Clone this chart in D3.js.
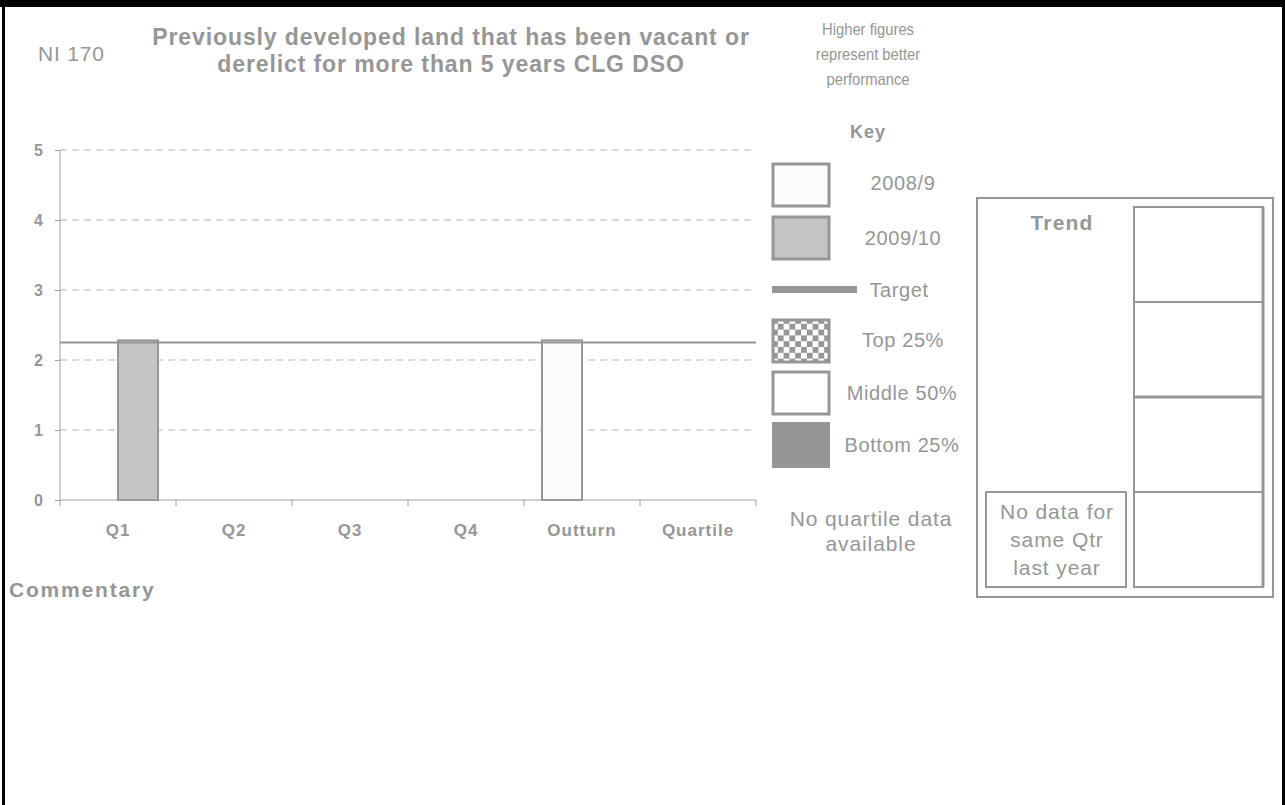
<!DOCTYPE html>
<html>
<head>
<meta charset="utf-8">
<script src="https://cdn.jsdelivr.net/npm/d3@7"></script>
<style>
  body { margin: 0; background: #fff; }
  svg text { font-family: "Liberation Sans", Arial, sans-serif; fill: #969696; }
</style>
</head>
<body>
<div id="chart"></div>
<script>
// data
var categories = ["Q1", "Q2", "Q3", "Q4", "Outturn", "Quartile"];
var seriesKeys = ["2008/9", "2009/10"];
var values2008 = [null, null, null, null, 2.28, null];
var values2009 = [2.28, null, null, null, null, null];
var targetValue = 2.25;
var yTicks = [0, 1, 2, 3, 4, 5];
var titleLines = ["Previously developed land that has been vacant or", "derelict for more than 5 years CLG DSO"];
var noteLines = ["Higher figures", "represent better", "performance"];
var keyLabels = ["2008/9", "2009/10", "Target", "Top 25%", "Middle 50%", "Bottom 25%"];
var quartileNote = ["No quartile data", "available"];
var trendNote = ["No data for", "same Qtr", "last year"];

var width = 1285, height = 805;
var grey = "#969696";

var svg = d3.select("#chart").append("svg")
    .attr("width", width)
    .attr("height", height);

// checker pattern for Top 25%
var defs = svg.append("defs");
var pat = defs.append("pattern")
    .attr("id", "checker")
    .attr("patternUnits", "userSpaceOnUse")
    .attr("width", 11.6).attr("height", 11.6)
    .attr("x", 772).attr("y", 318);
pat.append("rect").attr("width", 11.6).attr("height", 11.6).attr("fill", "#fff");
pat.append("rect").attr("width", 5.8).attr("height", 5.8).attr("fill", grey);
pat.append("rect").attr("x", 5.8).attr("y", 5.8).attr("width", 5.8).attr("height", 5.8).attr("fill", grey);

// black frame
svg.append("rect").attr("x", 0).attr("y", 0).attr("width", width).attr("height", 7).attr("fill", "#000");
svg.append("rect").attr("x", 2).attr("y", 0).attr("width", 3).attr("height", height).attr("fill", "#000");
svg.append("rect").attr("x", 1282).attr("y", 0).attr("width", 3).attr("height", height).attr("fill", "#000");

// header texts
svg.append("text")
    .attr("x", 38).attr("y", 61)
    .attr("font-size", 21)
    .attr("letter-spacing", 0.8)
    .text("NI 170");

svg.append("text")
    .attr("text-anchor", "middle")
    .attr("font-size", 23)
    .attr("font-weight", "bold")
    .attr("letter-spacing", 0.9)
    .selectAll("tspan")
    .data(titleLines)
    .enter().append("tspan")
    .attr("x", 451)
    .attr("y", function(d, i) { return 45 + i * 27; })
    .text(function(d) { return d; });

// slightly condensed note text
svg.append("g")
    .attr("transform", "translate(868,0) scale(0.87,1)")
    .append("text")
    .attr("text-anchor", "middle")
    .attr("font-size", 17)
    .selectAll("tspan")
    .data(noteLines)
    .enter().append("tspan")
    .attr("x", 0)
    .attr("y", function(d, i) { return 35 + i * 25; })
    .text(function(d) { return d; });

// plot
var margin = { left: 60, top: 150 },
    plotW = 696, plotH = 350;

var g = svg.append("g")
    .attr("transform", "translate(" + margin.left + "," + margin.top + ")");

var x0Scale = d3.scaleBand()
    .domain(categories)
    .range([0, plotW]);

var x1Scale = d3.scaleBand()
    .domain(seriesKeys)
    .range([0, x0Scale.bandwidth()])
    .paddingOuter(0.45);

var yScale = d3.scaleLinear()
    .domain([0, 5])
    .range([plotH, 0]);

// gridlines
g.append("g")
    .selectAll("line")
    .data(yTicks.slice(1))
    .enter().append("line")
    .attr("x1", 0).attr("x2", plotW)
    .attr("y1", function(d) { return yScale(d); })
    .attr("y2", function(d) { return yScale(d); })
    .attr("stroke", "#b4b4b4")
    .attr("stroke-dasharray", "7,5");

// bars
var rows = categories.map(function(c, i) {
    return { cat: c, vals: [{ key: "2008/9", value: values2008[i] }, { key: "2009/10", value: values2009[i] }] };
});
var fills = { "2008/9": "#fcfcfc", "2009/10": "#c4c4c4" };

g.append("g")
    .selectAll("g")
    .data(rows)
    .enter().append("g")
    .attr("transform", function(d) { return "translate(" + x0Scale(d.cat) + ",0)"; })
    .selectAll("rect")
    .data(function(d) { return d.vals.filter(function(v) { return v.value != null; }); })
    .enter().append("rect")
    .attr("x", function(d) { return x1Scale(d.key); })
    .attr("y", function(d) { return yScale(d.value); })
    .attr("width", x1Scale.bandwidth())
    .attr("height", function(d) { return plotH - yScale(d.value); })
    .attr("fill", function(d) { return fills[d.key]; })
    .attr("stroke", grey)
    .attr("stroke-width", 2);

// target line
g.append("line")
    .attr("x1", 0).attr("x2", plotW)
    .attr("y1", yScale(targetValue)).attr("y2", yScale(targetValue))
    .attr("stroke", grey)
    .attr("stroke-width", 2);

// axes
var yAxis = g.append("g")
    .call(d3.axisLeft(yScale).tickValues(yTicks).tickFormat(d3.format("d")).tickSize(5).tickPadding(12));
yAxis.select(".domain").attr("stroke", "#a0a0a0").attr("d", "M0,0V" + plotH);
yAxis.selectAll(".tick line").attr("stroke", "#a0a0a0");
yAxis.selectAll("text")
    .attr("font-size", 16).attr("font-weight", "bold")
    .attr("fill", grey).attr("font-family", "Liberation Sans, Arial, sans-serif");

var xAxis = g.append("g")
    .attr("transform", "translate(0," + plotH + ")")
    .call(d3.axisBottom(x0Scale).tickSize(0).tickPadding(24));
xAxis.select(".domain").attr("stroke", "#a0a0a0").attr("d", "M0,0H" + plotW);
xAxis.selectAll("text")
    .attr("font-size", 17).attr("font-weight", "bold")
    .attr("letter-spacing", 1)
    .attr("fill", grey).attr("font-family", "Liberation Sans, Arial, sans-serif");

// category boundary ticks
g.append("g")
    .selectAll("line")
    .data(categories.map(function(c) { return x0Scale(c); }).concat([plotW]))
    .enter().append("line")
    .attr("x1", function(d) { return d; }).attr("x2", function(d) { return d; })
    .attr("y1", plotH).attr("y2", plotH + 6)
    .attr("stroke", "#a0a0a0");

// key
svg.append("text")
    .attr("x", 868).attr("y", 138)
    .attr("text-anchor", "middle")
    .attr("font-size", 18).attr("font-weight", "bold")
    .attr("letter-spacing", 1)
    .text("Key");

var keyY = [163, 216, 286, 319, 371, 422];
var kx = 772, kw = 58, kh = 44;
svg.append("rect").attr("x", kx + 1).attr("y", keyY[0] + 1).attr("width", kw - 2).attr("height", kh - 2)
    .attr("fill", "#fcfcfc").attr("stroke", grey).attr("stroke-width", 3);
svg.append("rect").attr("x", kx + 1).attr("y", keyY[1] + 1).attr("width", kw - 2).attr("height", kh - 2)
    .attr("fill", "#c4c4c4").attr("stroke", grey).attr("stroke-width", 3);
svg.append("rect").attr("x", kx).attr("y", keyY[2]).attr("width", 85).attr("height", 7)
    .attr("fill", grey);
svg.append("rect").attr("x", kx + 1).attr("y", keyY[3] + 1).attr("width", kw - 2).attr("height", kh - 2)
    .attr("fill", "url(#checker)").attr("stroke", grey).attr("stroke-width", 3);
svg.append("rect").attr("x", kx + 1).attr("y", keyY[4] + 1).attr("width", kw - 2).attr("height", kh - 2)
    .attr("fill", "#fff").attr("stroke", grey).attr("stroke-width", 3);
svg.append("rect").attr("x", kx).attr("y", keyY[5]).attr("width", kw).attr("height", kh + 2)
    .attr("fill", grey);

var keyTextY = [190, 245, 297, 347, 400, 452];
var keyTextX = [903, 903, 899, 903, 902, 902];
svg.append("g")
    .selectAll("text")
    .data(keyLabels)
    .enter().append("text")
    .attr("x", function(d, i) { return keyTextX[i]; })
    .attr("y", function(d, i) { return keyTextY[i]; })
    .attr("text-anchor", "middle")
    .attr("font-size", 20)
    .attr("letter-spacing", 0.6)
    .text(function(d) { return d; });

svg.append("text")
    .attr("text-anchor", "middle")
    .attr("font-size", 21)
    .attr("letter-spacing", 0.9)
    .selectAll("tspan")
    .data(quartileNote)
    .enter().append("tspan")
    .attr("x", 871)
    .attr("y", function(d, i) { return 526 + i * 25; })
    .text(function(d) { return d; });

// trend panel
svg.append("rect").attr("x", 977).attr("y", 198).attr("width", 296).attr("height", 399)
    .attr("fill", "none").attr("stroke", grey).attr("stroke-width", 2);
svg.append("text")
    .attr("x", 1062).attr("y", 230)
    .attr("text-anchor", "middle")
    .attr("font-size", 21).attr("font-weight", "bold")
    .attr("letter-spacing", 1.2)
    .text("Trend");

var cellTops = [207, 302, 397, 492];
svg.append("g")
    .selectAll("rect")
    .data(cellTops)
    .enter().append("rect")
    .attr("x", 1134).attr("y", function(d) { return d; })
    .attr("width", 129).attr("height", 95)
    .attr("fill", "none").attr("stroke", grey).attr("stroke-width", 2);
svg.append("line").attr("x1", 1134).attr("x2", 1263).attr("y1", 397).attr("y2", 397)
    .attr("stroke", grey).attr("stroke-width", 3);
svg.append("line").attr("x1", 1263).attr("x2", 1263).attr("y1", 207).attr("y2", 587)
    .attr("stroke", grey).attr("stroke-width", 3);

svg.append("rect").attr("x", 986).attr("y", 492).attr("width", 140).attr("height", 95)
    .attr("fill", "none").attr("stroke", grey).attr("stroke-width", 2);
svg.append("text")
    .attr("text-anchor", "middle")
    .attr("font-size", 21)
    .attr("letter-spacing", 0.9)
    .selectAll("tspan")
    .data(trendNote)
    .enter().append("tspan")
    .attr("x", 1057)
    .attr("y", function(d, i) { return 519 + i * 28; })
    .text(function(d) { return d; });

// commentary
svg.append("text")
    .attr("x", 9).attr("y", 597)
    .attr("font-size", 21).attr("font-weight", "bold")
    .attr("letter-spacing", 1.8)
    .text("Commentary");
</script>
</body>
</html>
